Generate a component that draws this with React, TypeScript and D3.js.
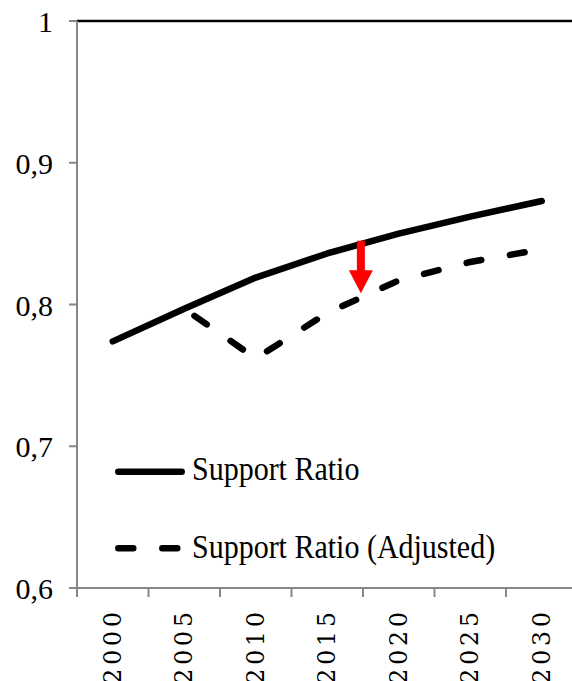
import React from "react";
import * as d3 from "d3";

// Five-year categories on the x axis
const years = ["2000", "2005", "2010", "2015", "2020", "2025", "2030"];
// Support ratio series
const supportRatio = [0.774, 0.797, 0.819, 0.836, 0.85, 0.862, 0.873];
// Adjusted support ratio series (starts in 2005)
const supportRatioAdjusted = [null, 0.797, 0.762, 0.794, 0.817, 0.83, 0.839];
// Y axis ticks
const yTicks = [0.6, 0.7, 0.8, 0.9, 1];
const yTickLabels = ["0,6", "0,7", "0,8", "0,9", "1"];
// Legend entries
const legendLabels = ["Support Ratio", "Support Ratio (Adjusted)"];
// Red arrow marking the gap between the two series (category position, from, to)
const arrowAt = 3.47;
const arrowFrom = 0.845;
const arrowTo = 0.808;

const W = 572;
const H = 681;
const left = 77;
const right = 577.5;
const top = 21;
const bottom = 588;

const serifStack =
  "Liberation Serif, Tinos, Times New Roman, Times, DejaVu Serif, FreeSerif, Noto Serif, serif";
const wideSerifStack =
  "DejaVu Serif, Bitstream Vera Serif, Liberation Serif, Tinos, Times New Roman, serif";

export default function App() {
  const x = d3.scaleBand<string>().domain(years).range([left, right]).padding(0);
  const bw = x.bandwidth();
  const cx = (c: string) => (x(c) as number) + bw / 2;
  const pos = d3.scaleLinear().domain([0, years.length]).range([left, right]);
  const y = d3.scaleLinear().domain([0.6, 1]).range([bottom, top]);

  const solidLine = d3
    .line<number>()
    .x((_, i) => cx(years[i]))
    .y((d) => y(d));

  const adjustedLine = d3
    .line<number | null>()
    .defined((d) => d != null)
    .x((_, i) => cx(years[i]))
    .y((d) => y(d as number));

  const axisColor = "#878787";

  // arrow geometry
  const ax = pos(arrowAt + 0.5);
  const aTop = y(arrowFrom);
  const aTip = y(arrowTo);
  const headH = 23;
  const headW = 12;
  const shaftW = 4;
  const arrowPath =
    [
      [ax - shaftW, aTop],
      [ax + shaftW, aTop],
      [ax + shaftW, aTip - headH],
      [ax + headW, aTip - headH],
      [ax, aTip],
      [ax - headW, aTip - headH],
      [ax - shaftW, aTip - headH],
    ]
      .map((p, i) => (i === 0 ? "M" : "L") + p[0] + "," + p[1])
      .join("") + "Z";

  const boundaries = d3.range(years.length + 1).map((i) => pos(i));

  return (
    <svg
      width={W}
      height={H}
      style={{ position: "absolute", left: 0, top: 0, background: "#fff" }}
    >
      <rect x={0} y={0} width={W} height={H} fill="#fff" />
      {/* top border */}
      <line x1={left} x2={W} y1={top} y2={top} stroke="#000" strokeWidth={2.5} />
      {/* y axis */}
      <line x1={left} x2={left} y1={top} y2={bottom} stroke={axisColor} strokeWidth={2} />
      {yTicks.map((t, i) => (
        <g key={"yt" + i}>
          <line x1={left - 8} x2={left} y1={y(t)} y2={y(t)} stroke={axisColor} strokeWidth={2} />
          <text
            x={53}
            y={y(t) + 11}
            textAnchor="end"
            style={{ fontFamily: serifStack, fontSize: "30px" }}
            fill="#000"
          >
            {yTickLabels[i]}
          </text>
        </g>
      ))}
      {/* x axis */}
      <line x1={left - 8} x2={W} y1={bottom} y2={bottom} stroke={axisColor} strokeWidth={2} />
      {boundaries.map((b, i) => (
        <line
          key={"xt" + i}
          x1={b}
          x2={b}
          y1={bottom}
          y2={bottom + 9}
          stroke={axisColor}
          strokeWidth={2}
        />
      ))}
      {years.map((yr) => (
        <text
          key={"xl" + yr}
          transform={`translate(${cx(yr) + 8},${608}) rotate(-90)`}
          textAnchor="end"
          style={{ fontFamily: wideSerifStack, fontSize: "23.5px", letterSpacing: "4px" }}
          fill="#000"
        >
          {yr}
        </text>
      ))}
      {/* series */}
      <path
        d={solidLine(supportRatio) || ""}
        fill="none"
        stroke="#000"
        strokeWidth={6.5}
        strokeLinecap="round"
        strokeLinejoin="round"
      />
      <path
        d={adjustedLine(supportRatioAdjusted) || ""}
        fill="none"
        stroke="#000"
        strokeWidth={6.5}
        strokeLinecap="round"
        strokeLinejoin="round"
        strokeDasharray="15 29"
        strokeDashoffset={31.6}
      />
      {/* arrow */}
      <path d={arrowPath} fill="#ff0000" />
      {/* legend */}
      <line x1={118.3} x2={181.7} y1={471.7} y2={471.7} stroke="#000" strokeWidth={6.5} strokeLinecap="round" />
      <g transform="translate(192,480) scale(1,1.1)">
        <text x={0} y={0} style={{ fontFamily: serifStack, fontSize: "30px" }} fill="#000">
          {legendLabels[0]}
        </text>
      </g>
      <line
        x1={118.3}
        x2={181}
        y1={548.3}
        y2={548.3}
        stroke="#000"
        strokeWidth={6.5}
        strokeLinecap="round"
        strokeDasharray="15 29"
      />
      <g transform="translate(192,558.3) scale(1,1.1)">
        <text x={0} y={0} style={{ fontFamily: serifStack, fontSize: "30px" }} fill="#000">
          {legendLabels[1]}
        </text>
      </g>
    </svg>
  );
}
